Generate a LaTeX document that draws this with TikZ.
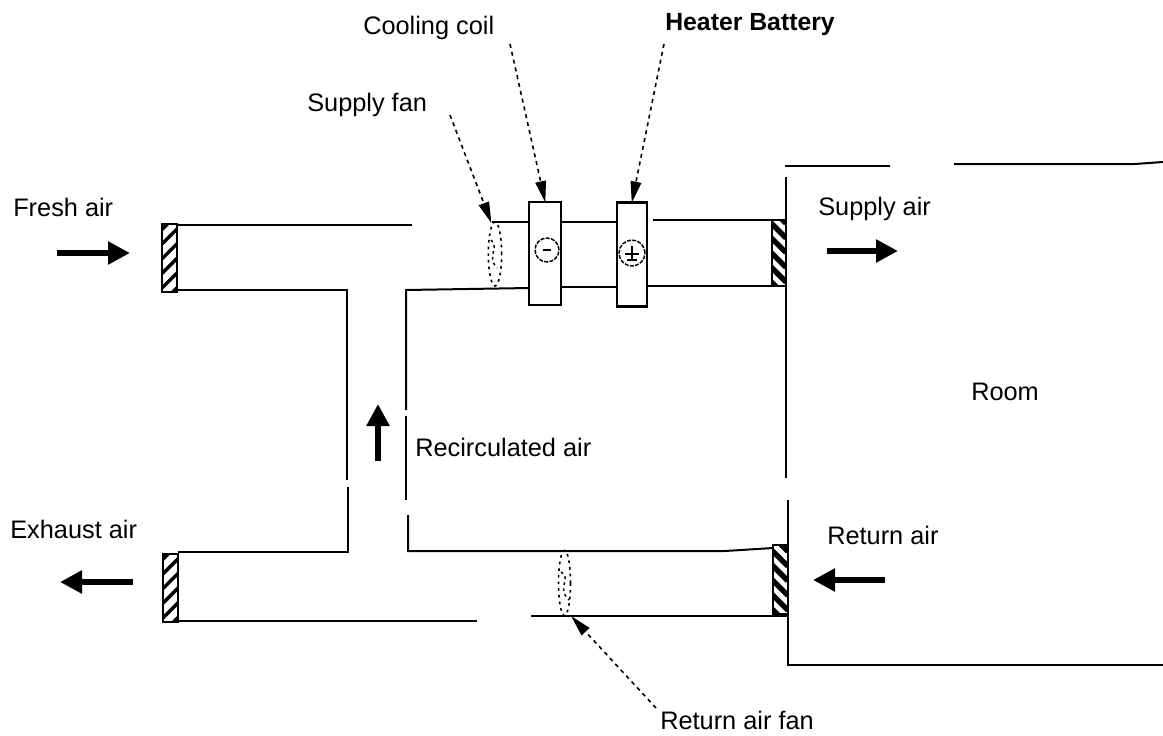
\documentclass[tikz,border=0pt]{standalone}
\usepackage{fontspec}
\setmainfont{Liberation Sans}
\usetikzlibrary{arrows.meta,shapes.geometric}
\tikzset{
  x=0.75pt,y=-0.75pt,
  duct/.style={line width=1.5pt,line cap=butt},
  wallthick/.style={line width=2.2pt},
  label/.style={anchor=west,inner sep=0pt,font=\fontsize{19}{22}\selectfont},
  flow/.style={line width=5pt,-{Triangle[length=16.5pt,width=16.5pt]}},
  leader/.style={line width=1.2pt,dash pattern=on 3pt off 3pt,-{Triangle[length=16pt,width=8pt]},shorten >=-1pt},
  coilbox/.style={draw,line width=1.6pt,fill=white,inner sep=0pt},
  fanshape/.style={draw,ellipse,line width=1.2pt,dash pattern=on 2pt off 3pt,inner sep=0pt},
  squiggle/.style={line width=1.1pt,dash pattern=on 2pt off 2.5pt},
  symbol/.style={draw,circle,line width=1.1pt,dash pattern=on 3pt off 1pt,inner sep=0pt},
  hatchR/.style={draw,line width=1.6pt,inner sep=0pt,fill=white,path picture={
    \foreach \k in {-3,...,6}
      \draw[line width=2.6pt] ([yshift=\k*11pt-8pt]path picture bounding box.south west) -- ++(14pt,14pt);}},
  hatchL/.style={draw,line width=1.6pt,inner sep=0pt,fill=white,path picture={
    \foreach \k in {-3,...,6}
      \draw[line width=4pt] ([yshift=\k*11pt-8pt]path picture bounding box.south east) -- ++(-14pt,14pt);}},
}
\begin{document}
\begin{tikzpicture}
\useasboundingbox (0,0) rectangle (1163,735);
% grilles
\node[hatchR,minimum width=11.2pt,minimum height=51pt] (fresh) at (169.5,258) {};
\node[hatchR,minimum width=11.5pt,minimum height=51pt] (exhaust) at (170.5,588) {};
\node[hatchL,minimum width=10.5pt,minimum height=49.5pt] (supply) at (779,253) {};
\node[hatchL,minimum width=11pt,minimum height=52pt] (return) at (780.5,579.5) {};
% mixing ducts
\draw[duct] (177,225) -- (412,225);
\draw[duct] (177,290) -- (347,290);
\draw[wallthick] (347,289) -- (347,480);
\draw[duct] (348,487) -- (348,552) -- (178,552);
\draw[duct] (177,621) -- (477,621);
\draw[duct] (406,410) -- (406,290) -- (530,288);
\draw[duct] (406,416) -- (406,500);
\draw[duct] (408,515) -- (408,551) -- (725,551) -- (773,548);
\draw[duct] (531,616) -- (787,616);
% supply duct and its boxes
\draw[duct] (492,222) -- (530,222);
\draw[duct] (560,222) -- (618,222);
\draw[duct] (653,220) -- (772,220);
\draw[duct] (560,287) -- (618,287);
\draw[duct] (647,286) -- (772,286);
\node[coilbox,minimum width=23.5pt,minimum height=77pt] (coil) at (545,253.5) {};
\node[coilbox,minimum width=22.5pt,minimum height=78pt] (heater) at (632,254.5) {};
\node[symbol,minimum size=18pt] (minus) at (547,250) {};
\node[symbol,minimum size=19.5pt] (plus) at (632,253) {};
\draw[line width=2pt] (543,250) -- (551,250);
\draw[line width=1.8pt] (632,246) -- (632,260) (625,254) -- (639,254) (627,260) -- (637,260);
% fans
\node[fanshape,minimum width=10pt,minimum height=48pt] (supplyfan) at (495,254) {};
\draw[squiggle] (491,240) .. controls (500,248) and (486,256) .. (497,268);
\node[fanshape,minimum width=9pt,minimum height=49pt] (returnfan) at (564.5,583) {};
\draw[squiggle] (561,572) .. controls (572,578) and (556,588) .. (569,600);
% room
\draw[duct] (786,177) -- (786,478);
\draw[duct] (788,500) -- (788,665) -- (1163,665);
\draw[duct] (785,166) -- (890,166);
\draw[duct] (954,164) -- (1135,164) -- (1163,162);
% labels
\node[label] (lcool) at (363,28) {Cooling coil};
\node[label,font=\fontsize{18.6}{22}\selectfont\bfseries] (lheat) at (665,25) {Heater Battery};
\node[label] (lfan) at (307,105) {Supply fan};
\node[label] (lfresh) at (13,207) {Fresh air};
\node[label] (lexh) at (10,529) {Exhaust air};
\node[label] (lsup) at (818,209) {Supply air};
\node[label] (lroom) at (971,392) {Room};
\node[label] (lret) at (827,535) {Return air};
\node[label] (lrec) at (415,447) {Recirculated air};
\node[label] (lrfan) at (660,720) {Return air fan};
% leaders
\coordinate (cstart) at (510,44);
\coordinate (hstart) at (664,44);
\coordinate (fstart) at (450,115);
\coordinate (rstart) at (656,708);
\coordinate (ftip) at (491,222);
\coordinate (rtip) at (572,617);
\draw[leader] (cstart) -- (coil.north);
\draw[leader] (hstart) -- (heater.north);
\draw[leader] (fstart) -- (ftip);
\draw[leader] (rstart) -- (rtip);
% flow arrows
\coordinate (a1) at (57,253); \coordinate (a2) at (130,253);
\coordinate (b1) at (133,582); \coordinate (b2) at (60,582);
\coordinate (c1) at (827,251); \coordinate (c2) at (898,251);
\coordinate (d1) at (885,580); \coordinate (d2) at (813,580);
\coordinate (e1) at (378,461); \coordinate (e2) at (378,404);
\draw[flow] (a1) -- (a2);
\draw[flow] (b1) -- (b2);
\draw[flow] (c1) -- (c2);
\draw[flow] (d1) -- (d2);
\draw[flow] (e1) -- (e2);
\end{tikzpicture}
\end{document}
